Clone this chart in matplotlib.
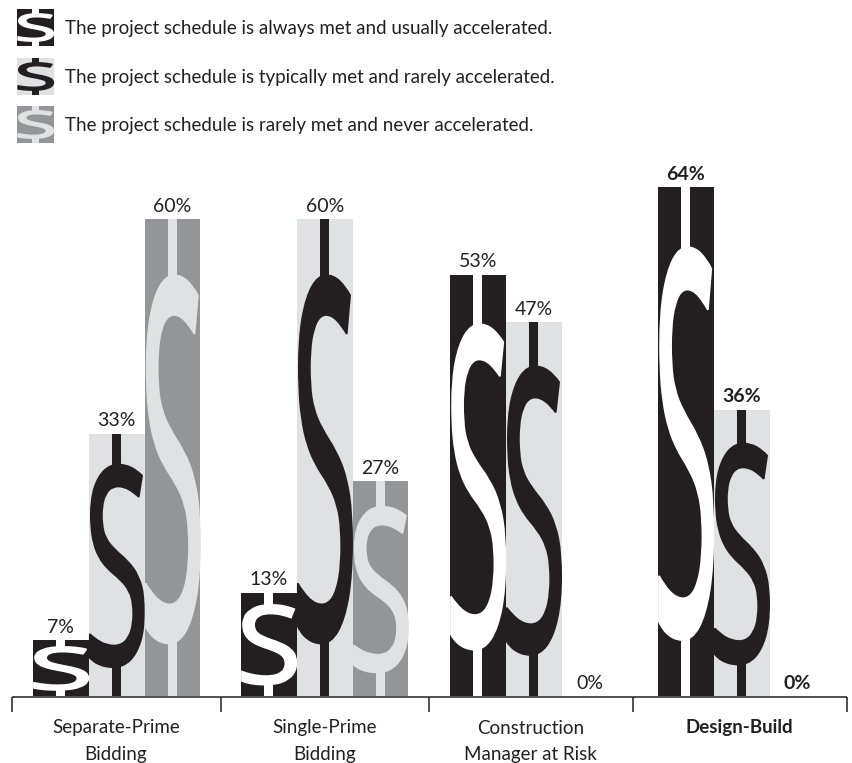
#!/usr/bin/env python3

import matplotlib
matplotlib.use("Agg")
import matplotlib.pyplot as plt
from matplotlib.font_manager import FontProperties
from matplotlib.patches import PathPatch, Rectangle
from matplotlib.path import Path
from matplotlib.textpath import TextPath
from matplotlib.transforms import Affine2D

categories = ["Separate-Prime\nBidding", "Single-Prime\nBidding",
              "Construction\nManager at Risk", "Design-Build"]
always_met = [7, 13, 53, 64]
typically_met = [33, 60, 47, 36]
rarely_met = [60, 27, 0, 0]
legend_labels = ["The project schedule is always met and usually accelerated.",
                 "The project schedule is typically met and rarely accelerated.",
                 "The project schedule is rarely met and never accelerated."]

DARK = "#231f20"
LIGHT = "#e0e1e3"
MID = "#939598"
FONT = "Lato"

PX_PER_PCT = 7.95
BASE_PY = 696.0


def py(pixel_y):
    # pixel row from the top of the image -> y value on the percent axis
    return (BASE_PY - pixel_y) / PX_PER_PCT


def dollar(ax, x0, x1, y0, y1, color, top=0.118, bottom=0.11, stem=9, bulk=1.3, zorder=3):
    # a stretched S with a stub of stem above and below, filling the box
    glyph = TextPath((0, 0), "S", size=100, prop=FontProperties(family="Noto Sans"))
    bb = glyph.get_extents()
    h = y1 - y0
    s0, s1 = y0 + bottom * h, y1 - top * h
    tr = (Affine2D().translate(-bb.x0, -bb.y0).scale(1 / bb.width, 1 / bb.height)
          .scale(x1 - x0 - 1.5, s1 - s0).translate(x0 + 1, s0))
    ax.add_patch(PathPatch(Path(tr.transform(glyph.vertices), glyph.codes),
                           fc=color, ec=color, lw=bulk, zorder=zorder))
    mid = (x0 + x1) / 2
    lap = 0.03 * (s1 - s0)
    ax.add_patch(Rectangle((mid - stem / 2, y0), stem, s0 + lap - y0, fc=color, ec="none", zorder=zorder))
    ax.add_patch(Rectangle((mid - stem / 2, s1 - lap), stem, y1 - s1 + lap, fc=color, ec="none", zorder=zorder))


fig = plt.figure(figsize=(8.52, 7.63), dpi=100)
ax = fig.add_axes([0, 0, 1, 1])
ax.set_xlim(0, 852)
ax.set_ylim(py(763), py(0))
ax.axis("off")

group_left = [33, 241, 450, 658]
bar_w = 55.8
tiers = [(always_met, DARK, "white"), (typically_met, LIGHT, DARK), (rarely_met, MID, LIGHT)]

for g, left in enumerate(group_left):
    bold = categories[g] == "Design-Build"
    for t, (values, fill, ink) in enumerate(tiers):
        x0 = left + t * bar_w
        val = values[g]
        ax.bar(x0, val, width=bar_w, align="edge", color=fill, zorder=1)
        if val > 0:
            dollar(ax, x0, x0 + bar_w, 0, val, ink, zorder=3 + t)
        ax.text(x0 + bar_w / 2, val + 0.55, f"{val}%", ha="center", va="bottom",
                fontsize=14, color=DARK, family=FONT,
                fontweight="bold" if bold else "normal", zorder=6)

# bracket under the bars
ticks_x = [12, 220.5, 429, 633, 847]
ax.plot([ticks_x[0], ticks_x[-1]], [py(697), py(697)], color=DARK, lw=1.1, zorder=7, solid_capstyle="butt")
for x in ticks_x:
    ax.plot([x, x], [py(697), py(712)], color=DARK, lw=1.1, zorder=7, solid_capstyle="butt")
for g, cat in enumerate(categories):
    ax.text((ticks_x[g] + ticks_x[g + 1]) / 2 - 0.5, py(719.5), cat, ha="center", va="top",
            fontsize=13.5, color=DARK, family=FONT, linespacing=1.65,
            fontweight="bold" if cat == "Design-Build" else "normal")

# legend
icon_tops = [9, 58, 106]
icon_colors = [(DARK, "white"), (LIGHT, DARK), (MID, LIGHT)]
for top, (fill, ink), label in zip(icon_tops, icon_colors, legend_labels):
    ax.add_patch(Rectangle((17, py(top + 37)), 37, py(top) - py(top + 37), fc=fill, ec="none"))
    dollar(ax, 17, 54, py(top + 37), py(top), ink, top=0.13, bottom=0.13, stem=7, bulk=1.0)
    ax.text(65, py(top + 19), label, ha="left", va="center", fontsize=13.5, color=DARK, family=FONT)

fig.savefig("out.png", dpi=100)
